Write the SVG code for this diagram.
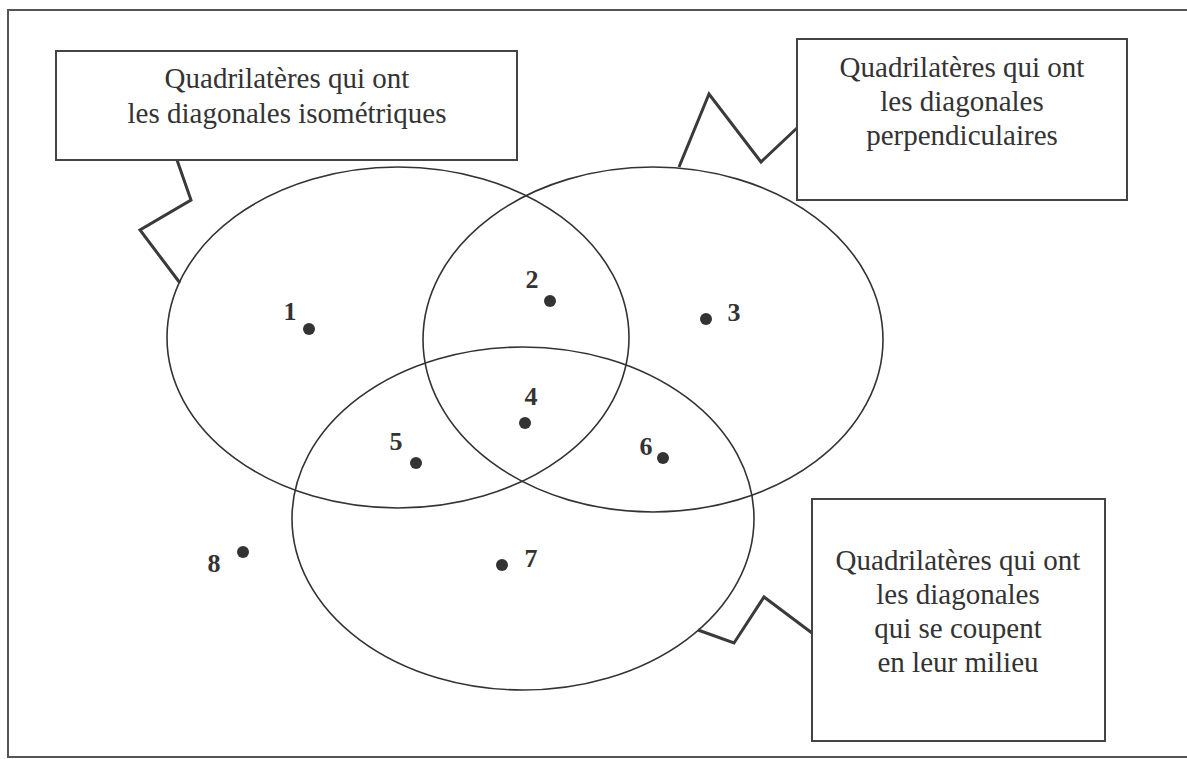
<svg xmlns="http://www.w3.org/2000/svg" width="1187" height="759" viewBox="0 0 1187 759">
<style>
.frame{fill:none;stroke:#555;stroke-width:2}
.box{fill:#fff;stroke:#444;stroke-width:2}
.set{fill:none;stroke:#333;stroke-width:1.6}
.zig{fill:none;stroke:#3a3a3a;stroke-width:3;stroke-linejoin:miter}
.t{font-family:"Liberation Serif","Times New Roman",serif;font-size:29px;fill:#333;text-anchor:middle}
.n{font-family:"Liberation Serif","Times New Roman",serif;font-size:26px;font-weight:bold;fill:#333;text-anchor:middle}
.dot{fill:#333}
</style>
<rect width="1187" height="759" fill="#fff"/>
<rect class="frame" x="8" y="10" width="1200" height="747"/>
<g id="sets">
<ellipse id="set-iso" class="set" cx="398" cy="337.5" rx="231" ry="170.5"/>
<ellipse id="set-perp" class="set" cx="653" cy="339.5" rx="230" ry="172.5"/>
<ellipse id="set-milieu" class="set" cx="523" cy="518.5" rx="231" ry="171.5"/>
</g>
<g id="connectors">
<polyline class="zig" points="177,160 191,200 140,230 180,283"/>
<polyline class="zig" points="679,167 709,94 761,162 797,128"/>
<polyline class="zig" points="698,630 734,643 764,597 812,633"/>
</g>
<g id="box-iso">
<rect class="box" x="56" y="51" width="461" height="109"/>
<text class="t" x="287" y="88">Quadrilatères qui ont</text>
<text class="t" x="287" y="123">les diagonales isométriques</text>
</g>
<g id="box-perp">
<rect class="box" x="797" y="39" width="330" height="161"/>
<text class="t" x="962" y="77">Quadrilatères qui ont</text>
<text class="t" x="962" y="111">les diagonales</text>
<text class="t" x="962" y="145">perpendiculaires</text>
</g>
<g id="box-milieu">
<rect class="box" x="812" y="499" width="293" height="242"/>
<text class="t" x="958" y="570">Quadrilatères qui ont</text>
<text class="t" x="958" y="604">les diagonales</text>
<text class="t" x="958" y="638">qui se coupent</text>
<text class="t" x="958" y="672">en leur milieu</text>
</g>
<g id="points">
<g id="p1"><circle class="dot" cx="309" cy="329" r="6"/><text class="n" x="290" y="320">1</text></g>
<g id="p2"><circle class="dot" cx="550" cy="301" r="6"/><text class="n" x="532" y="288">2</text></g>
<g id="p3"><circle class="dot" cx="706" cy="319" r="6"/><text class="n" x="734" y="321">3</text></g>
<g id="p4"><circle class="dot" cx="525" cy="423" r="6"/><text class="n" x="531" y="405">4</text></g>
<g id="p5"><circle class="dot" cx="416" cy="463" r="6"/><text class="n" x="396" y="450">5</text></g>
<g id="p6"><circle class="dot" cx="663" cy="458" r="6"/><text class="n" x="646" y="455">6</text></g>
<g id="p7"><circle class="dot" cx="502" cy="565" r="6"/><text class="n" x="531" y="567">7</text></g>
<g id="p8"><circle class="dot" cx="243" cy="552" r="6"/><text class="n" x="214" y="572">8</text></g>
</g>
</svg>
